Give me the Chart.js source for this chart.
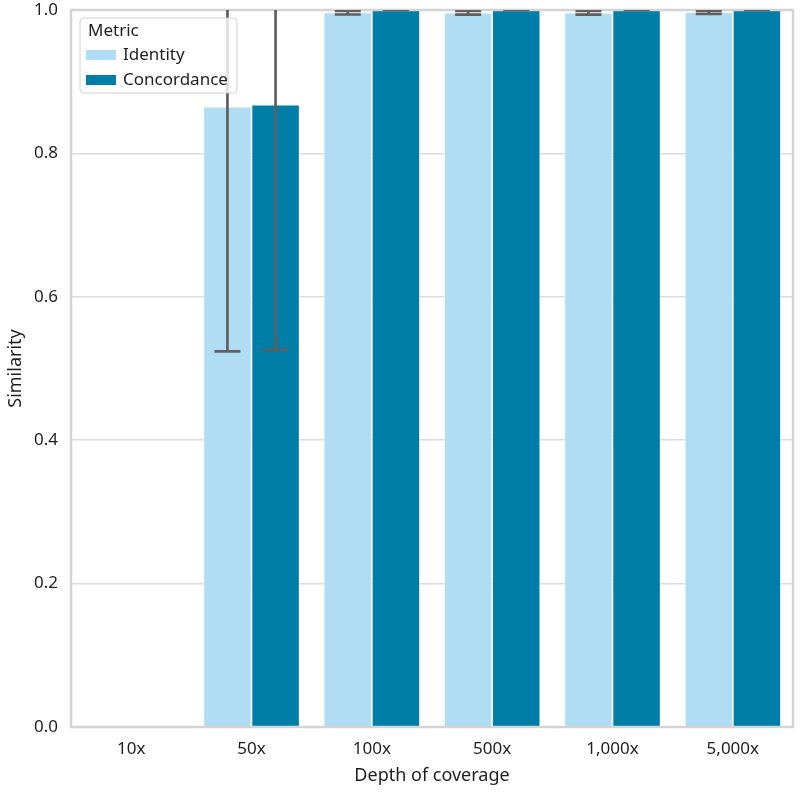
<!DOCTYPE html>
<html lang="en">
<head>
    <meta charset="UTF-8">
    <title>Similarity by depth of coverage</title>
    <script src="https://cdn.jsdelivr.net/npm/chart.js"></script>
    <style>
        body { margin: 0; background: #fff; }
    </style>
</head>
<body>
    <canvas id="simChart" width="800" height="794"></canvas>
    <script>
        // data
        const depths = ['10x', '50x', '100x', '500x', '1,000x', '5,000x'];
        const identity = [0, 0.865, 0.9965, 0.9963, 0.9963, 0.9970];
        const concordance = [0, 0.868, 1.0, 1.0, 1.0, 1.0];
        const identityLow = [null, 0.524, 0.9937, 0.9935, 0.9935, 0.9945];
        const identityHigh = [null, 1.206, 0.9986, 0.9986, 0.9986, 0.9992];
        const concordanceLow = [null, 0.526, 1.0, 1.0, 1.0, 1.0];
        const concordanceHigh = [null, 1.21, 1.0, 1.0, 1.0, 1.0];
        const yTicks = [0, 0.2, 0.4, 0.6, 0.8, 1.0];

        const FONT = '"Noto Sans", "DejaVu Sans", sans-serif';
        const TEXT = '#1e1e1e';

        const errorBars = {
            id: 'errorBars',
            afterDatasetsDraw(chart) {
                const { ctx, chartArea, scales } = chart;
                // frame around the plot
                ctx.save();
                ctx.strokeStyle = '#d4d4d4';
                ctx.lineWidth = 2.5;
                ctx.strokeRect(chartArea.left, chartArea.top,
                    chartArea.right - chartArea.left, chartArea.bottom - chartArea.top);
                ctx.restore();

                const ranges = [[identityLow, identityHigh], [concordanceLow, concordanceHigh]];
                ctx.save();
                ctx.beginPath();
                ctx.rect(chartArea.left, chartArea.top,
                    chartArea.right - chartArea.left, chartArea.bottom - chartArea.top);
                ctx.clip();
                ctx.strokeStyle = '#5f5f5f';
                ctx.lineWidth = 2.7;
                ranges.forEach((r, di) => {
                    const meta = chart.getDatasetMeta(di);
                    meta.data.forEach((bar, i) => {
                        if (r[0][i] == null) return;
                        const x = bar.x;
                        const y0 = scales.y.getPixelForValue(r[0][i]);
                        const y1 = scales.y.getPixelForValue(r[1][i]);
                        const cap = 13;
                        ctx.beginPath();
                        ctx.moveTo(x, y0); ctx.lineTo(x, y1);
                        ctx.moveTo(x - cap, y0); ctx.lineTo(x + cap, y0);
                        ctx.moveTo(x - cap, y1); ctx.lineTo(x + cap, y1);
                        ctx.stroke();
                    });
                });
                ctx.restore();
            },
            afterDraw(chart) {
                // legend box inside the plot, top left
                const { ctx, chartArea } = chart;
                const x = chartArea.left + 9, y = chartArea.top + 8, w = 157, h = 75;
                ctx.save();
                ctx.fillStyle = 'rgba(255,255,255,0.8)';
                ctx.strokeStyle = '#d0d0d0';
                ctx.lineWidth = 1;
                ctx.beginPath();
                ctx.roundRect(x, y, w, h, 4);
                ctx.fill();
                ctx.stroke();
                ctx.fillStyle = TEXT;
                ctx.font = '17px ' + FONT;
                ctx.textBaseline = 'middle';
                ctx.fillText('Metric', x + 8, y + 13);
                chart.data.datasets.forEach((ds, i) => {
                    const cy = y + 37 + i * 25;
                    ctx.fillStyle = ds.backgroundColor;
                    ctx.fillRect(x + 6, cy - 5, 30, 10);
                    ctx.fillStyle = TEXT;
                    ctx.fillText(ds.label, x + 43, cy);
                });
                ctx.restore();
            }
        };

        const ctx = document.getElementById('simChart').getContext('2d');
        new Chart(ctx, {
            type: 'bar',
            data: {
                labels: depths,
                datasets: [
                    {
                        label: 'Identity',
                        data: identity,
                        backgroundColor: '#b0ddf4',
                        borderColor: '#ffffff',
                        borderWidth: 0.8
                    },
                    {
                        label: 'Concordance',
                        data: concordance,
                        backgroundColor: '#007ea7',
                        borderColor: '#ffffff',
                        borderWidth: 0.8
                    }
                ]
            },
            options: {
                responsive: false,
                animation: false,
                devicePixelRatio: 1,
                layout: { padding: { top: 0, right: 7, left: 0, bottom: 0 } },
                datasets: { bar: { categoryPercentage: 0.8, barPercentage: 1.0 } },
                plugins: {
                    legend: { display: false },
                    tooltip: { enabled: false }
                },
                scales: {
                    x: {
                        grid: { display: false },
                        border: { display: false },
                        ticks: { color: TEXT, font: { family: FONT, size: 17 }, padding: 4, maxRotation: 0 },
                        title: {
                            display: true, text: 'Depth of coverage', color: TEXT,
                            font: { family: FONT, size: 18 }, padding: { top: 3, bottom: 7 }
                        },
                        afterFit(scale) { scale.height = 67; }
                    },
                    y: {
                        min: 0,
                        max: 1,
                        afterBuildTicks(scale) { scale.ticks = yTicks.map(v => ({ value: v })); },
                        grid: { color: '#dcdcdc', lineWidth: 1.5, drawTicks: false },
                        border: { display: false },
                        ticks: {
                            color: TEXT, font: { family: FONT, size: 17 }, padding: 13,
                            callback: v => v.toFixed(1)
                        },
                        title: {
                            display: true, text: 'Similarity', color: TEXT,
                            font: { family: FONT, size: 18 }, padding: { top: 5, bottom: 0 }
                        },
                        afterFit(scale) {
                            scale.width = 71;
                            scale.paddingTop = 10;
                            scale.paddingBottom = 0;
                        }
                    }
                }
            },
            plugins: [errorBars]
        });
    </script>
</body>
</html>
